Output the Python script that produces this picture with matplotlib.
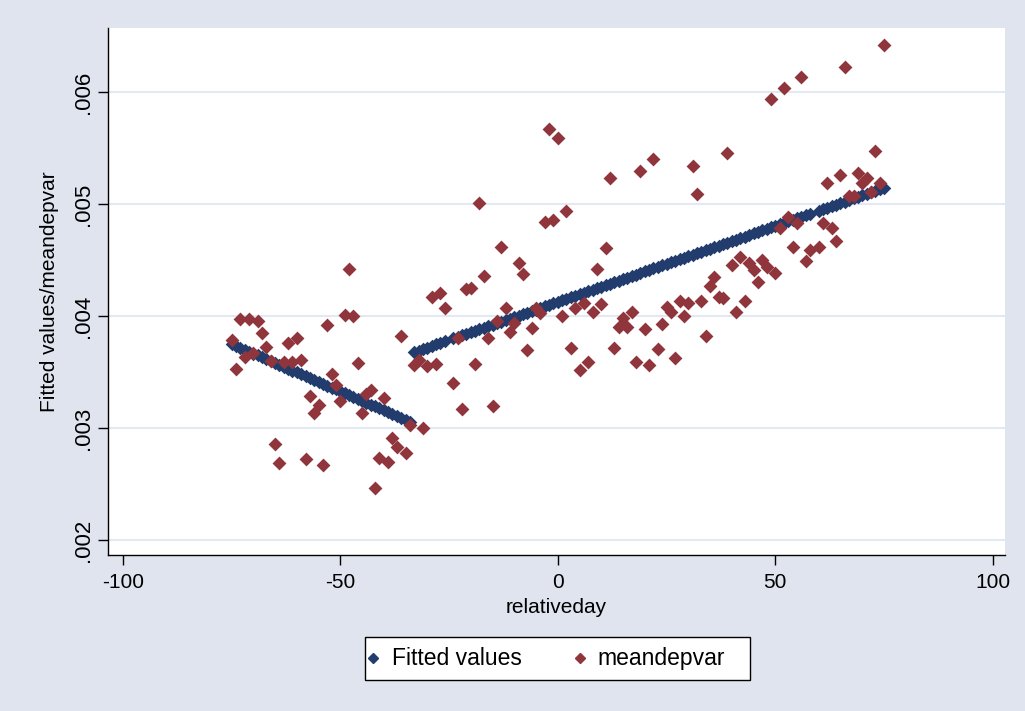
import numpy as np
import matplotlib.pyplot as plt
from matplotlib.lines import Line2D
from matplotlib.patches import Rectangle

plt.rcParams['font.family'] = ['Liberation Sans', 'DejaVu Sans']

# ------------------------------------------------------------------
# Data: relativeday vs meandepvar, split at the break
# ------------------------------------------------------------------
days_pre = [-75, -74, -73, -72, -71, -70, -69, -68, -67, -66, -65, -64, -63, -62,
            -61, -60, -59, -58, -57, -56, -55, -54, -53, -52, -51, -50, -49, -48,
            -47, -46, -45, -44, -43, -42, -41, -40, -39, -38, -37, -36, -35, -34]
mean_pre = [0.00379, 0.00353, 0.00397, 0.00363, 0.00397, 0.00367, 0.003955, 0.00385,
            0.00372, 0.00360, 0.002857, 0.00269, 0.00359, 0.00376, 0.00359, 0.00380,
            0.00361, 0.00272, 0.00329, 0.00313, 0.003205, 0.00267, 0.00392, 0.00348,
            0.00338, 0.00324, 0.00401, 0.00442, 0.00400, 0.00358, 0.00313, 0.00330,
            0.00334, 0.00246, 0.00273, 0.00327, 0.00270, 0.00291, 0.00283, 0.00382,
            0.00278, 0.00303]

days_post = [-33, -32, -31, -30, -29, -28, -27, -26, -24, -23, -22, -21, -20, -19,
             -18, -17, -16, -15, -14, -13, -12, -11, -10, -9, -8, -7, -6, -5, -4,
             -3, -2, -1, 0, 1, 2, 3, 4, 5, 6, 7, 8, 9, 10, 11, 12, 13, 14, 15, 16,
             17, 18, 19, 20, 21, 22, 23, 24, 25, 26, 27, 28, 29, 30, 31, 32, 33, 34,
             35, 36, 37, 38, 39, 40, 41, 42, 43, 44, 45, 46, 47, 48, 49, 50, 51, 52,
             53, 54, 55, 56, 57, 58, 60, 61, 62, 63, 64, 65, 66, 67, 68, 69, 70, 71,
             72, 73, 74, 75]
mean_post = [0.003563, 0.003607, 0.00300, 0.003554, 0.00417, 0.003571, 0.004205,
             0.004071, 0.003402, 0.00380, 0.00317, 0.004241, 0.00425, 0.003571,
             0.005009, 0.004357, 0.003804, 0.003196, 0.003955, 0.004616, 0.004071,
             0.003857, 0.003938, 0.004473, 0.004375, 0.00370, 0.00389, 0.004071,
             0.004027, 0.00484, 0.00567, 0.00486, 0.00559, 0.00400, 0.00494,
             0.003714, 0.004071, 0.003518, 0.004116, 0.003589, 0.004036, 0.00442,
             0.004107, 0.00461, 0.00523, 0.003714, 0.00390, 0.003982, 0.00390,
             0.004036, 0.003589, 0.00529, 0.003884, 0.003563, 0.00540, 0.003705,
             0.00393, 0.00408, 0.004036, 0.003625, 0.004134, 0.00400, 0.004116,
             0.00534, 0.00509, 0.004134, 0.003821, 0.004268, 0.004348, 0.00417,
             0.00416, 0.005455, 0.004455, 0.004036, 0.004527, 0.004134, 0.004473,
             0.004411, 0.004304, 0.00450, 0.00444, 0.005938, 0.004384, 0.004786,
             0.006036, 0.004884, 0.004616, 0.00483, 0.006134, 0.004491, 0.004589,
             0.004616, 0.00483, 0.005188, 0.004786, 0.00467, 0.005259, 0.006223,
             0.005071, 0.005071, 0.005277, 0.005188, 0.005232, 0.005107, 0.005473,
             0.005188, 0.00642]

# linear fit on each side of the break -> "Fitted values"
fit_pre = np.polyval(np.polyfit(days_pre, mean_pre, 1), days_pre)
fit_post = np.polyval(np.polyfit(days_post, mean_post, 1), days_post)

navy = "#223d6d"
maroon = "#90353b"
bg = "#e0e4ef"

fig = plt.figure(figsize=(10.25, 7.11), dpi=100, facecolor=bg)
ax = fig.add_axes([0.1054, 0.2194, 0.875, 0.7412])
ax.set_facecolor("white")

ax.scatter(days_pre, fit_pre, marker="D", s=48, color=navy, linewidths=0, zorder=3)
ax.scatter(days_post, fit_post, marker="D", s=48, color=navy, linewidths=0, zorder=3)
ax.scatter(days_pre + days_post, mean_pre + mean_post, marker="D", s=50,
           color=maroon, linewidths=0, zorder=4)

ax.set_xlim(-103.4, 102.8)
ax.set_ylim(0.001866, 0.006571)
ax.set_xticks([-100, -50, 0, 50, 100])
ax.set_xticklabels(["-100", "-50", "0", "50", "100"])
ax.set_yticks([0.002, 0.003, 0.004, 0.005, 0.006])
ax.set_yticklabels([".002", ".003", ".004", ".005", ".006"], rotation=90, va="center")

ax.grid(axis="y", color="#e3e8f2", linewidth=1.5, zorder=0)
ax.set_axisbelow(True)
for side in ["top", "right"]:
    ax.spines[side].set_visible(False)
for side in ["left", "bottom"]:
    ax.spines[side].set_color("black")
    ax.spines[side].set_linewidth(1.0)
ax.tick_params(direction="out", length=7, width=1, colors="black", labelsize=15)
ax.tick_params(axis="y", labelsize=16, pad=3)
ax.tick_params(axis="x", pad=6)

ax.set_xlabel("relativeday", fontsize=15, labelpad=4)
ax.set_ylabel("Fitted values/meandepvar", fontsize=15, labelpad=10)

# legend box drawn by hand so both labels share one baseline
def fx(px):
    return px / 1025

def fy(py):
    return 1 - py / 711

fig.add_artist(Rectangle((fx(365), fy(680)), fx(750) - fx(365), fy(637) - fy(680),
                         transform=fig.transFigure, facecolor="white",
                         edgecolor="black", linewidth=1.0))
for mx, tx, col, lab in [(373, 392, navy, "Fitted values"), (580, 597, maroon, "meandepvar")]:
    fig.add_artist(Line2D([fx(mx)], [fy(658)], marker="D", linestyle="None", color=col,
                          markersize=5, transform=fig.transFigure))
    fig.text(fx(tx), fy(665), lab, fontsize=16.5, ha="left", va="baseline")

fig.savefig("out.png", dpi=100, facecolor=bg)
